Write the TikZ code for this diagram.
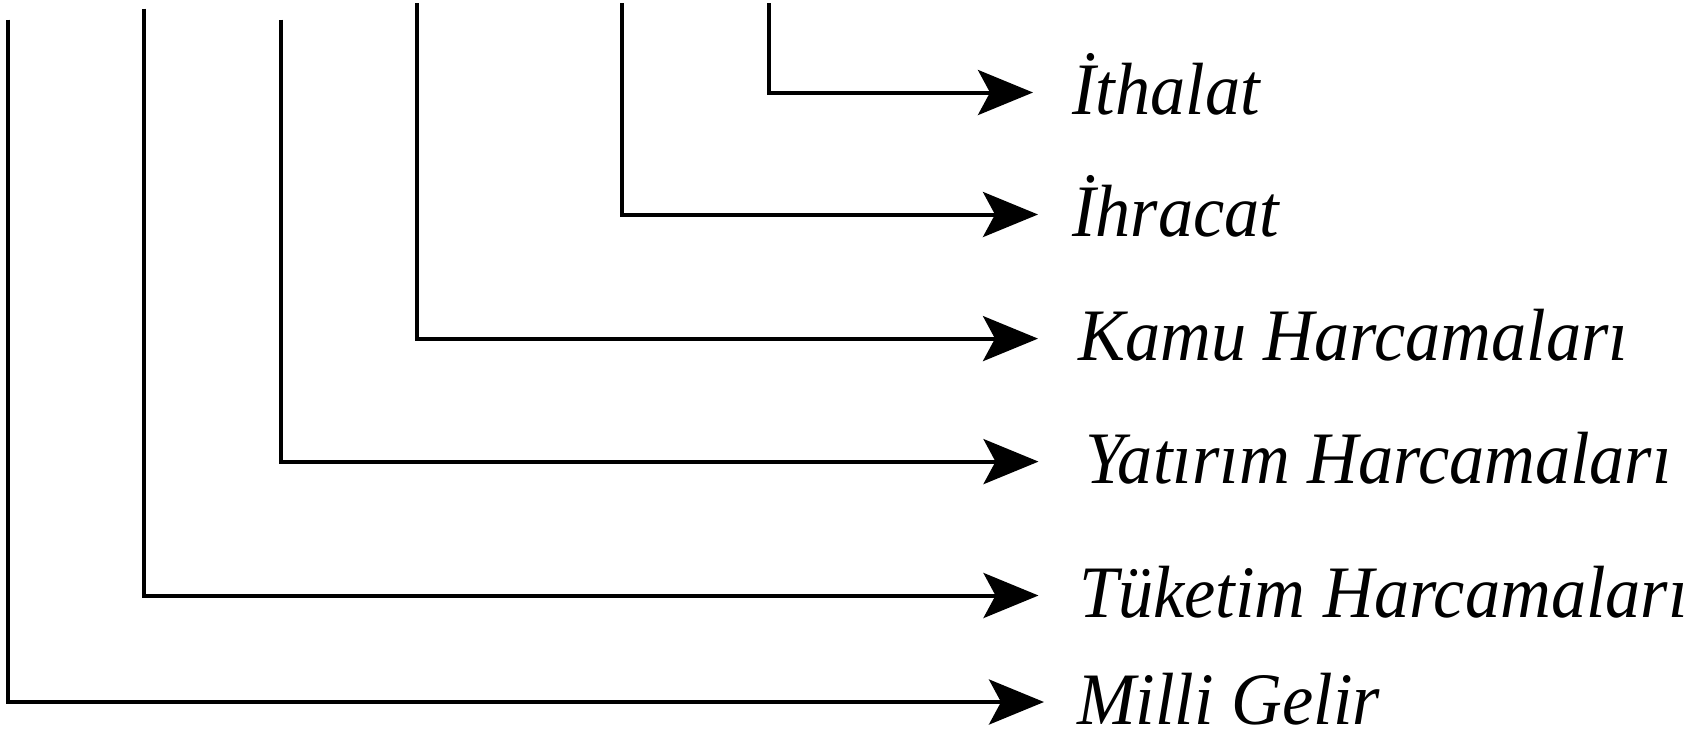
\documentclass[tikz,border=0pt]{standalone}
\usepackage{fontspec}
\usepackage{graphicx}
\setmainfont{Liberation Serif}
\usetikzlibrary{arrows.meta}
\newcommand\lbtxt[1]{\scalebox{0.95}[1]{#1}}
\begin{document}
\begin{tikzpicture}[x=1pt,y=-1pt,
  conn/.style={line width=4pt, -{Stealth[length=55pt,width=45pt,inset=12pt]}},
  lbl/.style={anchor=base west, inner sep=0pt, font=\fontsize{74}{74}\selectfont\itshape}]
\useasboundingbox (0,0) rectangle (1707,740);
% tops of the vertical lines
\coordinate (tM) at (7.6,19.6);
\coordinate (tT) at (143.7,8.7);
\coordinate (tY) at (280.9,19.6);
\coordinate (tK) at (417,3.3);
\coordinate (tR) at (621.6,3.3);
\coordinate (tI) at (768.6,3.3);
% arrow tips
\coordinate (aM) at (1044,702);
\coordinate (aT) at (1038.5,595.5);
\coordinate (aY) at (1038.5,461.6);
\coordinate (aK) at (1038,338.6);
\coordinate (aR) at (1038,214.5);
\coordinate (aI) at (1033,92.5);
% labels
\node[lbl] (lI) at (1072,114.5) {\lbtxt{İthalat}};
\node[lbl] (lR) at (1072,236.5) {\lbtxt{İhracat}};
\node[lbl] (lK) at (1078,360.6) {\lbtxt{Kamu Harcamaları}};
\node[lbl] (lY) at (1085,483.6) {\lbtxt{Yatırım Harcamaları}};
\node[lbl] (lT) at (1079,617.5) {\lbtxt{Tüketim Harcamaları}};
\node[lbl] (lM) at (1077,724) {\lbtxt{Milli Gelir}};
% connectors
\draw[conn] (tI) |- (aI);
\draw[conn] (tR) |- (aR);
\draw[conn] (tK) |- (aK);
\draw[conn] (tY) |- (aY);
\draw[conn] (tT) |- (aT);
\draw[conn] (tM) |- (aM);
\end{tikzpicture}
\end{document}
